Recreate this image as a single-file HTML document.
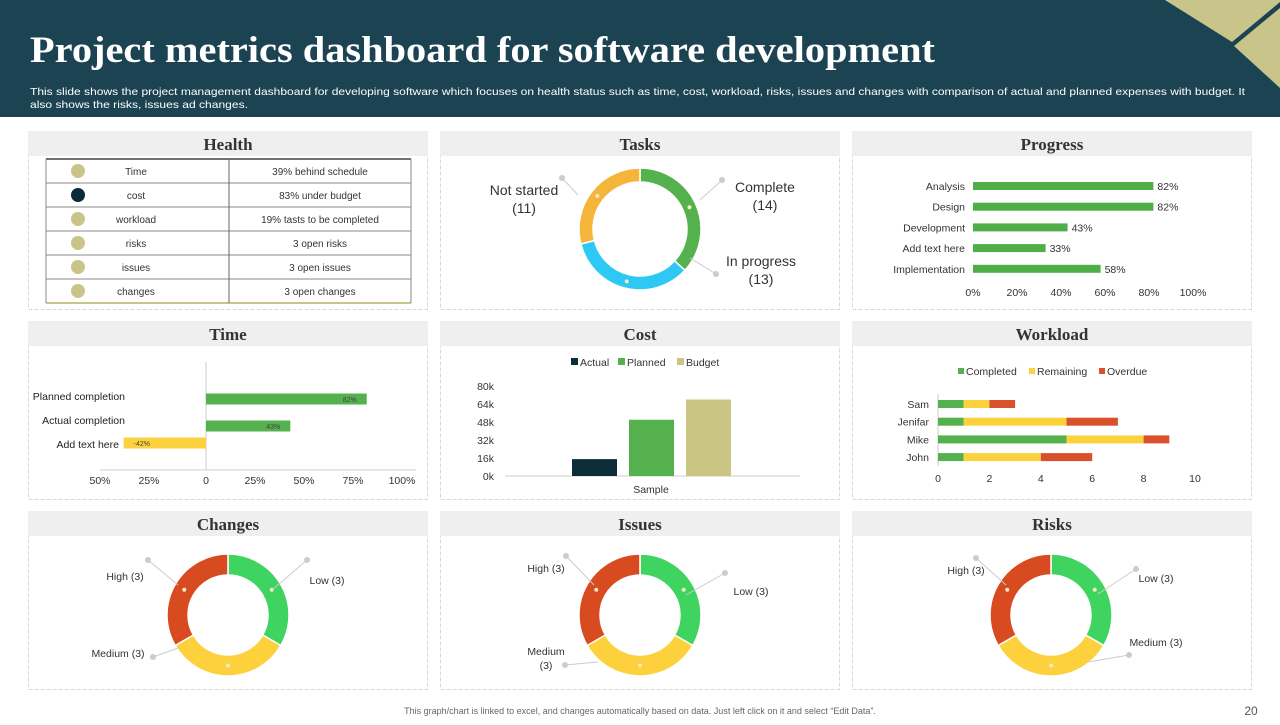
<!DOCTYPE html>
<html><head><meta charset="utf-8"><style>
body{margin:0;width:1280px;height:720px;overflow:hidden;background:#fff;font-family:"Liberation Sans",sans-serif}
svg text{font-family:"Liberation Sans",sans-serif}
</style></head><body>
<svg id="s" width="1280" height="720" xmlns="http://www.w3.org/2000/svg">
<rect x="0" y="0" width="1280" height="117" fill="#1c4352"/>
<polygon points="1165,0 1280,0 1280,2 1232,42" fill="#c9c58a"/>
<polygon points="1280,8 1280,88 1234,46" fill="#c9c58a"/>
<text x="30" y="62" fill="#fff" font-size="37" font-weight="bold" textLength="905" lengthAdjust="spacingAndGlyphs" style="font-family:'Liberation Serif',serif">Project metrics dashboard for software development</text>
<text x="30" y="95" fill="#fff" font-size="10.5" textLength="1215" lengthAdjust="spacingAndGlyphs">This slide shows the project management dashboard for developing software which focuses on health status such as time, cost, workload, risks, issues and changes with comparison of actual and planned expenses with budget. It</text>
<text x="30" y="108" fill="#fff" font-size="10.5" textLength="218" lengthAdjust="spacingAndGlyphs">also shows the risks, issues ad changes.</text>
<g id="panels"></g>
<g id="charts"></g>
<text x="640" y="714" text-anchor="middle" font-size="9" fill="#666">This graph/chart is linked to excel, and changes automatically based on data. Just left click on it and select “Edit Data”.</text>
<text x="1251" y="715" text-anchor="middle" font-size="12" fill="#555">20</text>
</svg>
<script>
const NS="http://www.w3.org/2000/svg";
const S=document.getElementById('charts');
function el(t,a,p,txt){const e=document.createElementNS(NS,t);for(const k in a)e.setAttribute(k,a[k]);if(txt!=null)e.textContent=txt;(p||S).appendChild(e);return e;}
function tx(x,y,s,size,anchor,fill,name){const e=el('text',{x:x,y:y,'font-size':size,'text-anchor':anchor||'start',fill:fill||'#333'},null,s);

return e;}

// panels
const panelTitles=['Health','Tasks','Progress','Time','Cost','Workload','Changes','Issues','Risks'];
const px=[28,440,852],py=[131,321,511];
const P=document.getElementById('panels');
panelTitles.forEach((t,i)=>{const x=px[i%3],y=py[Math.floor(i/3)];
const r=el('rect',{x:x+0.5,y:y+0.5,width:399,height:178,fill:'#fff',stroke:'#d8d8d8','stroke-dasharray':'4 2'},P);


const h=el('rect',{x:x,y:y,width:400,height:25,fill:'#efefef'},P);


const tt=el('text',{x:x+200,y:y+19,'font-size':17,'font-weight':'bold','text-anchor':'middle',fill:'#333',style:"font-family:'Liberation Serif',serif"},P,t);


});

// Health table
const healthItems=['Time','cost','workload','risks','issues','changes'];
const healthStatus=['39% behind schedule','83% under budget','19% tasts to be completed','3 open risks','3 open issues','3 open changes'];
const healthDot=['#c9c58a','#0d2c3a','#c9c58a','#c9c58a','#c9c58a','#c9c58a'];
const rowH=24,ty0=159;
healthItems.forEach((it,i)=>{const y=ty0+i*rowH;
const l=el('line',{x1:46,x2:411,y1:y,y2:y,stroke:i==0?'#444':'#888','stroke-width':i==0?1.5:1});


const c=el('circle',{cx:78,cy:y+12,r:7,fill:healthDot[i]});


tx(136,y+16,it,10,'middle','#333','health-item-label');
tx(320,y+16,healthStatus[i],10,'middle','#333','health-status-text');
});
{const l=el('line',{x1:46,x2:411,y1:ty0+6*rowH,y2:ty0+6*rowH,stroke:'#c9c58a','stroke-width':2});


const v=el('line',{x1:229,x2:229,y1:ty0,y2:ty0+6*rowH,stroke:'#666'});


const v1=el('line',{x1:46,x2:46,y1:ty0,y2:ty0+6*rowH,stroke:'#888'});


const v2=el('line',{x1:411,x2:411,y1:ty0,y2:ty0+6*rowH,stroke:'#888'});

}

// donut helper
function arc(cx,cy,r0,r1,a0,a1){const p=(r,a)=>[cx+r*Math.sin(a),cy-r*Math.cos(a)];const lg=(a1-a0)>Math.PI?1:0;
const [x0,y0]=p(r1,a0),[x1,y1]=p(r1,a1),[x2,y2]=p(r0,a1),[x3,y3]=p(r0,a0);
return `M${x0},${y0}A${r1},${r1} 0 ${lg} 1 ${x1},${y1}L${x2},${y2}A${r0},${r0} 0 ${lg} 0 ${x3},${y3}Z`;}
function donut(cx,cy,r0,r1,vals,cols,names,prefix){const tot=vals.reduce((a,b)=>a+b,0);let a=0;
vals.forEach((v,i)=>{const a1=a+v/tot*2*Math.PI;const p=el('path',{d:arc(cx,cy,r0,r1,a,a1),fill:cols[i],stroke:'#fff','stroke-width':1.5});


const m=(a+a1)/2,rm=(r0+r1)/2;const d=el('circle',{cx:cx+rm*Math.sin(m),cy:cy-rm*Math.cos(m),r:2,fill:'#f5e9c8'});


a=a1;});}

// Tasks
const taskCats=['complete','in-progress','not-started'];
const taskVals=[14,13,11];
donut(640,229,47,61,taskVals,['#55b14d','#2ec8f4','#f4b53a'],taskCats,'tasks');
tx(524,195,'Not started',14,'middle','#333','tasks-label-not-started');
tx(524,213,'('+taskVals[2]+')',14,'middle','#333','tasks-value-not-started');
tx(765,192,'Complete',14,'middle','#333','tasks-label-complete');
tx(765,210,'('+taskVals[0]+')',14,'middle','#333','tasks-value-complete');
tx(761,266,'In progress',14,'middle','#333','tasks-label-in-progress');
tx(761,284,'('+taskVals[1]+')',14,'middle','#333','tasks-value-in-progress');
[[562,178,578,195],[722,180,700,200],[716,274,690,258]].forEach(l=>{const c=el('circle',{cx:l[0],cy:l[1],r:3,fill:'#ccc'});


const p=el('line',{x1:l[0],y1:l[1],x2:l[2],y2:l[3],stroke:'#ccc'});

});

// Progress
const progCats=['Analysis','Design','Development','Add text here','Implementation'];
const progVals=[82,82,43,33,58];
const progTicks=['0%','20%','40%','60%','80%','100%'];
const pX=v=>973+v*2.2;
progCats.forEach((c,i)=>{const y=186+i*20.7;
tx(965,y+4,c,10.5,'end','#333','progress-category-label');
const b=el('rect',{x:pX(0),y:y-4,width:pX(progVals[i])-pX(0),height:8,fill:'#4fae47'});


tx(pX(progVals[i])+4,y+4,progVals[i]+'%',10.5,'start','#333','progress-value-label');});
progTicks.forEach((t,i)=>tx(pX(i*20),296,t,10.5,'middle','#333','progress-x-tick'));

// Time
const timeCats=['Planned completion','Actual completion','Add text here'];
const timeVals=[82,43,-42];
const timeTicks=[-50,-25,0,25,50,75,100];
const tX=v=>206+v*1.96;
{const a=el('line',{x1:206,x2:206,y1:362,y2:470,stroke:'#ccc'});
const b=el('line',{x1:100,x2:416,y1:470,y2:470,stroke:'#ccc'});}
timeCats.forEach((c,i)=>{const y=[396,420,444][i];const by=[399,426,443][i];
tx([125,125,119][i],y+4,c,10.5,'end','#222','time-category-label');
const v=timeVals[i];const r=el('rect',{x:Math.min(tX(0),tX(v)),y:by-5.5,width:Math.abs(tX(v)-tX(0)),height:11,fill:v<0?'#fcd23c':'#55b14d'});


tx(v<0?tX(v)+10:tX(v)-10,by+3,v+'%',7,v<0?'start':'end','#444','time-bar-value');});
timeTicks.forEach(t=>tx(tX(t)+(t<0?-8:0),484,Math.abs(t)+(t==0?'':'%'),10.5,'middle','#333','time-x-tick'));

// Cost
const costSeries=['Actual','Planned','Budget'];
const costVals=[15,50,68];
const costTicks=[0,16,32,48,64,80];
const costCols=['#0c2d38','#55b14d','#cbc584'];
const cY=v=>476-v*90/80;
{const a=el('line',{x1:505,x2:800,y1:476,y2:476,stroke:'#ccc'});}
costTicks.forEach(t=>tx(494,cY(t)+4,t+'k',10.5,'end','#333','cost-y-tick'));
costSeries.forEach((s,i)=>{const x=572+i*57;const r=el('rect',{x:x,y:cY(costVals[i]),width:45,height:cY(0)-cY(costVals[i]),fill:costCols[i]});


const lx=[571,618,677][i];const lr=el('rect',{x:lx,y:358,width:7,height:7,fill:costCols[i]});


tx(lx+9,366,s,10.5,'start','#333','cost-legend-label');});
tx(651,493,'Sample',10.5,'middle','#333','cost-x-category');

// Workload
const wlNames=['Sam','Jenifar','Mike','John'];
const wlCompleted=[1,1,5,1];
const wlRemaining=[1,4,3,3];
const wlOverdue=[1,2,1,2];
const wlTicks=[0,2,4,6,8,10];
const wlCols=['#55b14d','#fcd23c','#d9512c'];
const wX=v=>938+v*25.7;
{const a=el('line',{x1:938,x2:938,y1:394,y2:466,stroke:'#ccc'});}
wlNames.forEach((n,i)=>{const y=404+i*17.7;tx(929,y+4,n,10.5,'end','#333','workload-name-label');
let acc=0;[wlCompleted[i],wlRemaining[i],wlOverdue[i]].forEach((v,j)=>{const r=el('rect',{x:wX(acc),y:y-4,width:wX(v)-wX(0),height:8,fill:wlCols[j]});

acc+=v;});});
wlTicks.forEach(t=>tx(wX(t),482,t,10.5,'middle','#333','workload-x-tick'));
['Completed','Remaining','Overdue'].forEach((s,i)=>{const lx=[958,1029,1099][i];const r=el('rect',{x:lx,y:368,width:6,height:6,fill:wlCols[i]});


tx(lx+8,375,s,10.5,'start','#333','workload-legend-label');});

// Risk-type donuts
const riskCats=['low','medium','high'];
const changesVals=[3,3,3];
const issuesVals=[3,3,3];
const risksVals=[3,3,3];
const rc=['#3fd35f','#fcd13b','#d84a20'];
donut(228,615,40,61,changesVals,rc,riskCats,'changes');
donut(640,615,40,61,issuesVals,rc,riskCats,'issues');
donut(1051,615,40,61,risksVals,rc,riskCats,'risks');
const lbl=[
[125,580,'High ('+changesVals[2]+')'],[327,584,'Low ('+changesVals[0]+')'],[118,657,'Medium ('+changesVals[1]+')'],
[546,572,'High ('+issuesVals[2]+')'],[751,595,'Low ('+issuesVals[0]+')'],[546,655,'Medium'],[546,669,'('+issuesVals[1]+')'],
[966,574,'High ('+risksVals[2]+')'],[1156,582,'Low ('+risksVals[0]+')'],[1156,646,'Medium ('+risksVals[1]+')']];
lbl.forEach(l=>tx(l[0],l[1],l[2],10.5,'middle','#333','donut-slice-label'));
[[148,560,178,585],[307,560,272,590],[153,657,178,648],[566,556,594,585],[725,573,686,595],[565,665,598,662],[976,558,1006,585],[1136,569,1098,594],[1129,655,1088,662]].forEach(d=>{const c=el('circle',{cx:d[0],cy:d[1],r:3,fill:'#ccc'});


const p=el('polyline',{points:`${d[0]},${d[1]} ${d[2]},${d[3]}`,stroke:'#ccc',fill:'none'});

});
</script>
</body></html>
